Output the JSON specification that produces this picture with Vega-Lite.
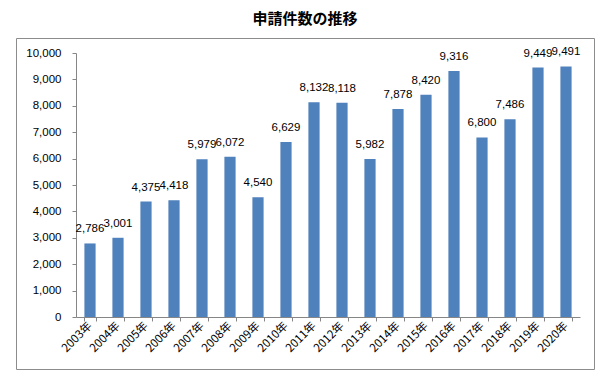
{
  "$schema": "https://vega.github.io/schema/vega-lite/v6.json",
  "width": 578,
  "height": 331,
  "autosize": {"type": "none"},
  "padding": {"left": 16, "top": 38, "right": 18, "bottom": 10},
  "background": "white",
  "title": {"text": "申請件数の推移", "font": "Noto Sans CJK JP", "fontSize": 15, "fontWeight": "bold", "color": "#000000", "offset": 11, "anchor": "middle"},
  "config": {
    "view": {"stroke": "#8c8c8c", "strokeWidth": 1},
    "axis": {"grid": false}
  },
  "data": {"values": [
    {"year": "2003年", "count": 2786},
    {"year": "2004年", "count": 3001},
    {"year": "2005年", "count": 4375},
    {"year": "2006年", "count": 4418},
    {"year": "2007年", "count": 5979},
    {"year": "2008年", "count": 6072},
    {"year": "2009年", "count": 4540},
    {"year": "2010年", "count": 6629},
    {"year": "2011年", "count": 8132},
    {"year": "2012年", "count": 8118},
    {"year": "2013年", "count": 5982},
    {"year": "2014年", "count": 7878},
    {"year": "2015年", "count": 8420},
    {"year": "2016年", "count": 9316},
    {"year": "2017年", "count": 6800},
    {"year": "2018年", "count": 7486},
    {"year": "2019年", "count": 9449},
    {"year": "2020年", "count": 9491}
  ]},
  "encoding": {
    "x": {
      "field": "year", "type": "nominal", "sort": null,
      "scale": {"type": "band", "range": [60, 564], "paddingInner": 0.6, "paddingOuter": 0.3},
      "axis": {
        "title": null, "offset": -52, "labelAngle": -45, "labelAlign": "right", "labelBaseline": "middle",
        "labelFont": "Noto Sans CJK JP", "labelFontSize": 11.5, "labelColor": "#000000", "labelPadding": 3,
        "tickBand": "extent", "tickSize": 4, "tickColor": "#868686", "domainColor": "#868686"
      }
    },
    "y": {
      "field": "count", "type": "quantitative",
      "scale": {"domain": [0, 10000], "range": [279, 15], "nice": false, "zero": false},
      "axis": {
        "title": null, "offset": -60, "values": [0, 1000, 2000, 3000, 4000, 5000, 6000, 7000, 8000, 9000, 10000],
        "format": ",d", "labelFont": "Liberation Sans", "labelFontSize": 11.5, "labelColor": "#000000",
        "labelPadding": 11, "tickSize": 4, "tickColor": "#868686", "domainColor": "#868686"
      }
    }
  },
  "layer": [
    {
      "mark": {"type": "bar", "color": "#4F81BD"},
      "encoding": {"y2": {"datum": 0}}
    },
    {
      "mark": {"type": "text", "baseline": "bottom", "dy": -9, "font": "Liberation Sans", "fontSize": 11.5, "color": "#000000"},
      "encoding": {"text": {"field": "count", "type": "quantitative", "format": ",d"}}
    }
  ]
}
